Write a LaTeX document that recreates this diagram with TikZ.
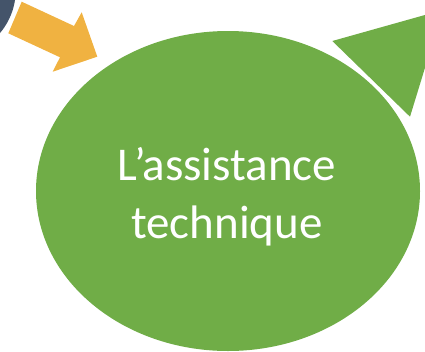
\documentclass[tikz,border=0pt]{standalone}
\usepackage{fontspec}
\setmainfont{Carlito}
\definecolor{sagreen}{HTML}{70AD47}
\definecolor{saorange}{HTML}{F0B241}
\definecolor{sablue}{HTML}{44546A}
\begin{document}
\begin{tikzpicture}[x=1pt,y=-1pt,
  label text/.style={text=white,align=center,font=\fontsize{47}{58}\selectfont}]
\useasboundingbox (0,0) rectangle (425,351);
\begin{scope}
\clip (0,0) rectangle (425,351);
% dark blue circle top-left
\fill[sablue] (-51.5,-10.3) circle[radius=67.3];
% orange block arrow
\fill[saorange] (21.7,1.7) -- (74,26) -- (81.7,12.3) -- (97.3,56.7) -- (52.7,71.7) -- (60,57.3) -- (8.3,33.3) -- cycle;
% green triangle top-right
\fill[sagreen] (332.3,41) -- (442.7,10) -- (410,116.7) -- cycle;
% green ellipse
\fill[sagreen] (228,191) ellipse[x radius=192,y radius=160];
\end{scope}
\node[label text] (main) at (227,197) {L’assistance\\technique};
\end{tikzpicture}
\end{document}
